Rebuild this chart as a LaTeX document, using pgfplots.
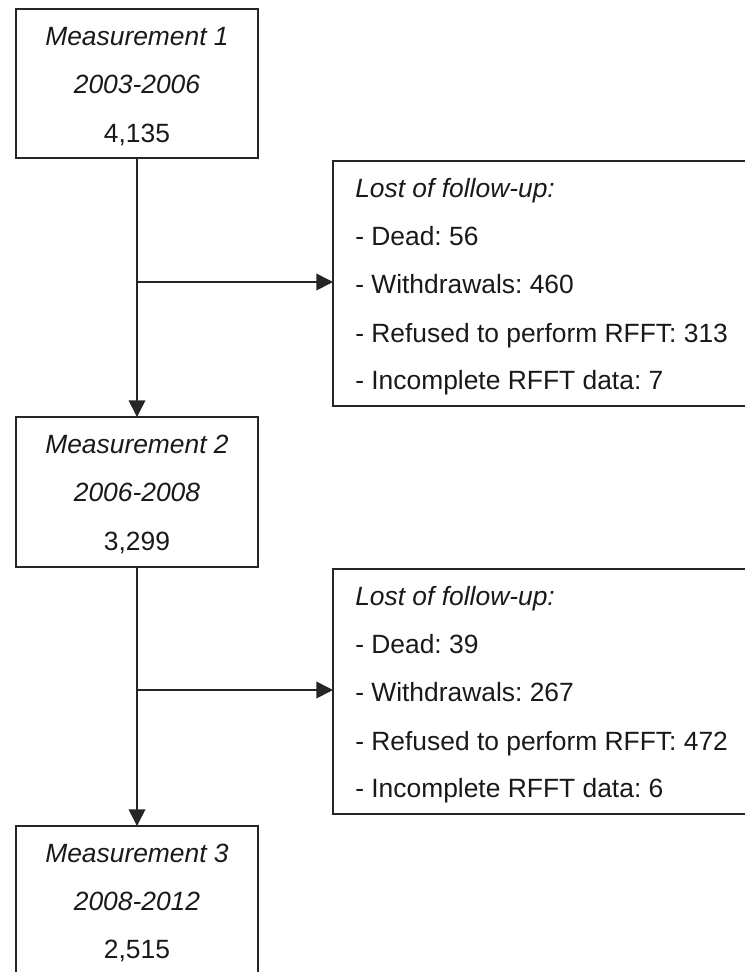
\documentclass[border=0pt]{standalone}
\usepackage{pgfplots}
\pgfplotsset{compat=1.18}
\usepackage{fontspec}
\setmainfont{Liberation Sans}
\usetikzlibrary{arrows.meta}
\frenchspacing
\tikzset{
  txt/.style={anchor=base, inner sep=0pt, text=black!90, font=\fontsize{19.8}{23}\selectfont},
  box/.style={line width=1.2pt, draw=black!85, mark=none, line join=miter},
  arr/.style={box, -{Triangle[length=12.5pt,width=12.5pt]}},
}

\begin{document}
\begin{tikzpicture}
\begin{axis}[
  scale only axis, width=558.75pt, height=729pt,
  xmin=0, xmax=745, ymin=0, ymax=972, y dir=reverse,
  hide axis,
]
% boxes (pixel coordinates, y downwards)
\addplot[box] coordinates {(16,9) (258,9) (258,158) (16,158) (16,9) (258,9)};
\addplot[box] coordinates {(760,161) (333,161) (333,406) (760,406)};
\addplot[box] coordinates {(16,417) (258,417) (258,567) (16,567) (16,417) (258,417)};
\addplot[box] coordinates {(760,569) (333,569) (333,814) (760,814)};
\addplot[box] coordinates {(16,990) (16,826) (258,826) (258,990)};
% connectors
\addplot[arr] coordinates {(137,158) (137,417)};
\addplot[arr] coordinates {(137,282) (333,282)};
\addplot[arr] coordinates {(137,567) (137,826)};
\addplot[arr] coordinates {(137,690) (333,690)};
% box texts
\node[txt] at (axis cs:137,45) {\itshape Measurement 1};
\node[txt] at (axis cs:137,93) {\itshape 2003-2006};
\node[txt] at (axis cs:137,142) {4,135};
\node[txt] at (axis cs:137,453) {\itshape Measurement 2};
\node[txt] at (axis cs:137,501) {\itshape 2006-2008};
\node[txt] at (axis cs:137,550) {3,299};
\node[txt] at (axis cs:137,862) {\itshape Measurement 3};
\node[txt] at (axis cs:137,910) {\itshape 2008-2012};
\node[txt] at (axis cs:137,958) {2,515};
\node[txt, anchor=base west] at (axis cs:355,197) {\itshape Lost of follow-up:};
\node[txt, anchor=base west] at (axis cs:355,245) {- Dead: 56};
\node[txt, anchor=base west] at (axis cs:355,293) {- Withdrawals: 460};
\node[txt, anchor=base west] at (axis cs:355,342) {- Refused to perform RFFT: 313};
\node[txt, anchor=base west] at (axis cs:355,389) {- Incomplete RFFT data: 7};
\node[txt, anchor=base west] at (axis cs:355,605) {\itshape Lost of follow-up:};
\node[txt, anchor=base west] at (axis cs:355,653) {- Dead: 39};
\node[txt, anchor=base west] at (axis cs:355,701) {- Withdrawals: 267};
\node[txt, anchor=base west] at (axis cs:355,750) {- Refused to perform RFFT: 472};
\node[txt, anchor=base west] at (axis cs:355,797) {- Incomplete RFFT data: 6};
\end{axis}
\path[use as bounding box] (current axis.south west) rectangle (current axis.north east);
\end{tikzpicture}
\end{document}
